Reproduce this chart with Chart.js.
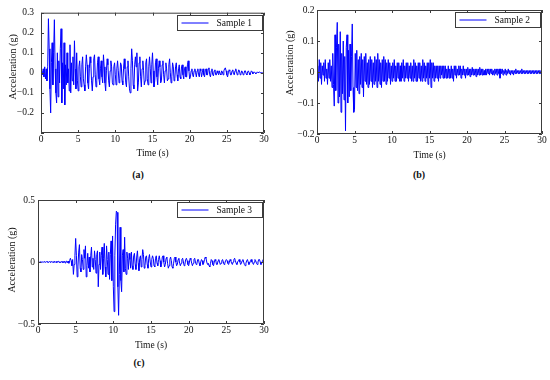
<!DOCTYPE html>
<html>
<head>
<meta charset="utf-8">
<script src="https://cdn.jsdelivr.net/npm/chart.js@4.4.1/dist/chart.umd.min.js"></script>
<style>
  body { margin: 0; background: #fff; }
  #page { position: relative; width: 550px; height: 380px; overflow: hidden; }
  .panel { position: absolute; }
  .cap { position: absolute; font: bold 10px "Liberation Serif", serif; color: #111; transform: translate(-50%, -50%); }
</style>
</head>
<body>
<div id="page">
  <div class="panel" style="left:0;top:0"><canvas id="chartA" width="275" height="165"></canvas></div>
  <div class="panel" style="left:280px;top:0"><canvas id="chartB" width="270" height="165"></canvas></div>
  <div class="panel" style="left:0;top:190px"><canvas id="chartC" width="275" height="165"></canvas></div>
  <div class="cap" style="left:138px;top:174px">(a)</div>
  <div class="cap" style="left:419px;top:174px">(b)</div>
  <div class="cap" style="left:139px;top:362px">(c)</div>
</div>
<script>
// sampling step of the records (s)
const dt = 0.1;

const timeTicks = [0, 5, 10, 15, 20, 25, 30];
const accTicksA = [-0.3, -0.2, -0.1, 0, 0.1, 0.2, 0.3];
const accTicksB = [-0.2, -0.1, 0, 0.1, 0.2];
const accTicksC = [-0.5, 0, 0.5];
const seriesLabels = ['Sample 1', 'Sample 2', 'Sample 3'];
const xTitle = 'Time (s)';
const yTitle = 'Acceleration (g)';

const sample1 = [
  0, 0.01, -0.01, 0.02, -0.02, 0.03, -0.03, 0.02, -0.04, 0.03,
  0.27, 0.12, -0.08, -0.20, 0.05, 0.15, -0.06, 0.10, 0.265, 0.02,
  -0.10, -0.15, 0.10, -0.12, 0.06, -0.05, 0.12, 0.22, -0.15, 0.05,
  -0.08, 0.15, -0.16, 0.04, -0.06, 0.10, -0.05, 0.02, -0.09, 0.14,
  -0.10, 0.05, -0.04, 0.08, -0.06, 0.16, 0.02, -0.08, 0.10, -0.04,
  -0.09, 0.03, 0.06, -0.02, -0.07, 0.04, 0.08, -0.03, -0.06, -0.09,
  0.03, 0.09, 0.04, -0.05, -0.08, 0.02, 0.08, 0.05, -0.04, -0.09,
  -0.02, 0.07, 0.09, -0.01, -0.07, -0.04, 0.05, 0.08, -0.03, -0.06,
  0.02, 0.06, -0.02, -0.05, 0.09, 0.03, -0.05, -0.09, 0.01, 0.07,
  0.04, -0.04, -0.07, 0.01, 0.06, 0.03, -0.05, -0.06, 0.03, 0.05,
  -0.01, -0.06, 0.02, 0.06, 0.01, -0.05, -0.03, 0.05, 0.04, -0.04,
  -0.06, 0.02, 0.07, 0.02, -0.05, -0.07, 0.03, 0.06, -0.02, -0.08,
  -0.10, 0.02, 0.12, 0.06, -0.06, -0.08, 0.04, 0.08, 0.03, 0.10,
  -0.09, -0.05, 0.05, 0.08, -0.02, -0.07, 0.02, 0.06, 0.01, -0.06,
  -0.04, 0.05, 0.07, -0.03, -0.06, 0.03, 0.08, 0.02, -0.05, 0.04,
  0.10, 0.01, -0.07, -0.04, 0.05, 0.07, -0.02, -0.06, 0.02, 0.06,
  0.03, -0.05, -0.04, 0.04, 0.06, -0.01, -0.05, 0.01, 0.05, 0.02,
  -0.04, -0.03, 0.04, 0.07, 0.00, -0.05, -0.02, 0.05, 0.03, -0.04,
  -0.03, 0.03, 0.05, -0.01, -0.04, 0.02, 0.04, -0.02, -0.03, 0.03,
  0.04, -0.01, -0.03, 0.02, 0.03, -0.02, -0.02, 0.04, 0.06, 0.01,
  -0.03, -0.02, 0.01, 0.02, -0.01, -0.02, 0.01, 0.02, 0.00, -0.02,
  0.01, 0.02, -0.01, -0.02, 0.02, 0.01, -0.02, 0.00, 0.02, -0.01,
  -0.02, 0.01, 0.02, -0.01, -0.01, 0.02, 0.025, -0.01, -0.02, 0.01,
  0.02, -0.01, -0.015, 0.01, 0.015, -0.01, -0.01, 0.01, 0.00, -0.01,
  0.01, -0.005, -0.01, 0.01, 0.005, -0.01, 0.01, 0.02, 0.025, 0.01,
  -0.01, -0.02, 0.00, 0.015, 0.01, -0.01, -0.01, 0.01, 0.015, -0.005,
  -0.01, 0.01, 0.02, 0.005, -0.01, 0.00, 0.015, 0.01, -0.01, -0.005,
  0.01, 0.005, -0.01, -0.005, 0.01, 0.01, -0.005, -0.01, 0.005, 0.01,
  0.00, -0.01, 0.00, 0.01, 0.005, -0.005, 0.00, 0.005, 0.00, -0.005,
  0.00, 0.005, 0.00, 0.00, 0.005, 0.00, 0.00, 0.00, 0.00, 0.00,
  0.00
];

const sample2 = [
  0.00, 0.02, -0.03, 0.04, -0.02, 0.03, -0.04, 0.02, -0.01, 0.03,
  -0.03, 0.04, -0.02, 0.01, -0.04, 0.03, -0.02, 0.04, -0.03, 0.02,
  -0.05, 0.06, -0.04, -0.11, 0.12, -0.06, 0.08, 0.16, -0.10, 0.09,
  -0.08, 0.13, -0.13, 0.06, -0.07, 0.10, -0.09, 0.05, -0.19, 0.08,
  0.12, -0.10, 0.07, -0.08, 0.09, -0.06, 0.05, 0.155, -0.05, -0.13,
  -0.12, 0.06, -0.05, 0.07, -0.06, 0.04, -0.07, 0.05, -0.04, 0.06,
  -0.05, 0.04, -0.08, 0.05, -0.03, 0.06, -0.04, 0.03, -0.05, 0.04,
  -0.04, 0.05, -0.03, 0.04, -0.05, 0.03, -0.04, 0.05, -0.03, 0.04,
  -0.05, 0.06, -0.03, 0.04, -0.04, 0.03, -0.05, 0.04, -0.03, 0.05,
  -0.03, 0.04, -0.04, 0.03, -0.03, 0.04, -0.02, 0.03, -0.04, 0.02,
  -0.03, 0.03, -0.02, 0.04, -0.03, 0.02, -0.03, 0.03, -0.02, 0.03,
  -0.03, 0.02, -0.03, 0.03, -0.02, 0.04, -0.03, 0.02, -0.02, 0.03,
  -0.02, 0.03, -0.03, 0.02, -0.02, 0.03, -0.03, 0.02, -0.03, 0.04,
  -0.02, 0.03, -0.03, 0.02, -0.03, 0.03, -0.02, 0.03, -0.03, 0.02,
  -0.03, 0.04, -0.02, 0.03, -0.03, 0.02, -0.02, 0.03, -0.04, 0.03,
  -0.02, 0.04, -0.05, 0.03, -0.02, 0.03, -0.03, 0.02, -0.02, 0.02,
  -0.02, 0.02, -0.03, 0.02, -0.02, 0.02, -0.01, 0.02, -0.02, 0.02,
  -0.02, 0.02, -0.02, 0.01, -0.02, 0.02, -0.02, 0.01, -0.02, 0.02,
  -0.02, 0.01, -0.03, 0.02, -0.01, 0.02, -0.02, 0.01, -0.01, 0.02,
  -0.01, 0.02, -0.02, 0.01, -0.01, 0.02, -0.01, 0.01, -0.02, 0.01,
  -0.01, 0.015, -0.01, 0.01, -0.015, 0.01, -0.01, 0.015, -0.01, 0.01,
  -0.01, 0.01, -0.015, 0.01, -0.01, 0.01, -0.01, 0.015, -0.01, 0.01,
  -0.01, 0.01, -0.01, 0.005, -0.01, 0.01, -0.01, 0.01, -0.005, 0.01,
  -0.01, 0.01, -0.005, 0.01, -0.01, 0.005, -0.01, 0.01, -0.005, 0.01,
  -0.01, 0.01, -0.005, 0.01, -0.02, 0.01, -0.005, 0.01, -0.01, 0.005,
  -0.005, 0.01, -0.01, 0.005, -0.005, 0.01, -0.005, 0.005, -0.01, 0.005,
  -0.005, 0.005, -0.01, 0.005, -0.005, 0.01, -0.005, 0.005, -0.005, 0.005,
  -0.005, 0.005, -0.005, 0.01, -0.005, 0.005, -0.005, 0.005, -0.005, 0.005,
  -0.005, 0.005, -0.005, 0.005, -0.005, 0.005, -0.005, 0.005, -0.005, 0.005,
  -0.005, 0.005, -0.005, 0.005, -0.005, 0.005, -0.005, 0.005, -0.005, 0.005,
  0.00
];

const sample3 = [
  0, 0.002, -0.002, 0.003, -0.003, 0.002, 0, -0.002, 0.003, 0,
  -0.003, 0.002, 0.004, -0.002, -0.004, 0.003, 0.002, -0.003, 0.004, -0.002,
  0.003, -0.004, 0.005, -0.003, 0.004, -0.005, 0.004, 0.006, -0.004, 0.003,
  -0.006, 0.005, -0.004, 0.007, -0.005, 0.006, -0.008, 0.005, 0.007, -0.006,
  0.008, -0.01, 0.012, 0.03, 0.01, -0.03, 0.02, -0.10, -0.02, 0.05,
  0.19, 0.05, -0.12, -0.04, 0.08, 0.14, -0.05, -0.08, 0.06, 0.02,
  -0.06, 0.10, 0.03, 0.13, -0.12, -0.03, 0.07, -0.05, 0.04, -0.08,
  0.05, 0.12, -0.04, 0.03, -0.06, 0.09, 0.02, -0.09, 0.06, 0.09,
  -0.20, -0.02, 0.08, -0.06, 0.05, 0.12, -0.10, 0.03, 0.15, -0.04,
  -0.12, 0.13, 0.02, -0.10, 0.08, -0.14, 0.06, 0.17, -0.15, 0.21,
  -0.20, -0.40, 0.05, 0.30, 0.41, 0.40, -0.20, -0.43, -0.10, 0.28,
  -0.15, -0.24, 0.05, 0.10, -0.08, 0.20, -0.05, -0.10, 0.08, 0.03,
  -0.06, 0.07, 0.02, -0.05, 0.08, -0.03, -0.06, 0.05, 0.07, -0.02,
  -0.06, 0.04, 0.09, -0.01, -0.07, 0.03, 0.05, -0.04, 0.02, 0.10,
  0.06, -0.05, -0.03, 0.04, 0.05, -0.02, -0.05, 0.03, 0.06, 0.00,
  -0.04, 0.02, 0.05, 0.03, -0.03, -0.04, 0.03, 0.05, -0.01, -0.03,
  0.02, 0.05, 0.01, -0.04, -0.02, 0.04, 0.05, 0.00, -0.04, -0.02,
  0.03, 0.04, -0.01, -0.05, -0.03, 0.02, 0.04, 0.01, -0.04, -0.05,
  -0.01, 0.03, 0.04, 0.00, -0.03, -0.02, 0.02, 0.03, -0.01, -0.03,
  -0.01, 0.02, 0.03, 0.00, -0.03, -0.02, 0.02, 0.03, 0.01, -0.02,
  -0.03, 0.00, 0.03, 0.02, -0.01, -0.03, -0.01, 0.02, 0.03, 0.00,
  -0.02, -0.01, 0.02, 0.02, -0.01, -0.03, 0.00, 0.02, 0.01, -0.02,
  -0.01, 0.02, 0.04, 0.03, 0.00, -0.02, -0.01, -0.03, -0.04, -0.01,
  0.02, 0.01, -0.02, -0.03, 0.00, 0.02, 0.01, -0.02, -0.02, 0.01,
  0.02, 0.00, -0.02, -0.01, 0.01, 0.02, 0.00, -0.02, -0.01, 0.01,
  0.02, 0.01, -0.01, -0.02, 0.00, 0.02, 0.01, -0.01, -0.02, 0.00,
  0.02, 0.03, 0.01, -0.01, -0.02, 0.00, 0.01, 0.02, 0.00, -0.02,
  -0.01, 0.01, 0.02, 0.00, -0.02, -0.03, -0.01, 0.01, 0.02, 0.00,
  -0.02, -0.01, 0.01, 0.02, 0.00, -0.01, -0.02, 0.00, 0.02, 0.01,
  -0.01, -0.02, 0.00, 0.02, 0.02, 0.00, -0.02, -0.01, 0.01, 0.02,
  0.00
];

const fmt = v => {
  const r = Math.round(v * 10) / 10;
  if (r === 0) return '0';
  return (r < 0 ? '\u2212' : '') + Math.abs(r).toFixed(1);
};

// MATLAB-like box with inward ticks, y label and an in-axes legend
const boxPlugin = {
  id: 'box',
  afterDatasetsDraw(chart, args, opts) {
    const { ctx, chartArea: a, scales: { x, y } } = chart;
    ctx.save();
    ctx.strokeStyle = '#3c3c3c';
    ctx.lineWidth = 1;
    ctx.beginPath();
    x.ticks.forEach(t => {
      const px = Math.round(x.getPixelForValue(t.value)) + 0.5;
      ctx.moveTo(px, a.bottom); ctx.lineTo(px, a.bottom - 3);
      ctx.moveTo(px, a.top); ctx.lineTo(px, a.top + 3);
    });
    y.ticks.forEach(t => {
      const py = Math.round(y.getPixelForValue(t.value)) + 0.5;
      ctx.moveTo(a.left, py); ctx.lineTo(a.left + 3, py);
      ctx.moveTo(a.right, py); ctx.lineTo(a.right - 3, py);
    });
    ctx.rect(a.left + 0.5, a.top + 0.5, a.right - a.left - 1, a.bottom - a.top - 1);
    ctx.stroke();

    // y axis label
    ctx.fillStyle = '#111';
    ctx.font = '10px "Liberation Serif", serif';
    ctx.textAlign = 'center';
    ctx.textBaseline = 'middle';
    ctx.save();
    ctx.translate(opts.titleX, (a.top + a.bottom) / 2 - opts.titleShift);
    ctx.rotate(-Math.PI / 2);
    ctx.fillText(yTitle, 0, 0);
    ctx.restore();

    // legend
    const bw = 85, bh = 15;
    const bx = Math.round(a.right - 2 - bw) + 0.5;
    const by = Math.round(a.top + 2) + 0.5;
    ctx.fillStyle = '#fff';
    ctx.fillRect(bx, by, bw, bh);
    ctx.strokeRect(bx, by, bw, bh);
    const ds = chart.data.datasets[0];
    ctx.strokeStyle = ds.borderColor;
    ctx.beginPath();
    ctx.moveTo(bx + 4, by + bh / 2);
    ctx.lineTo(bx + 31, by + bh / 2);
    ctx.stroke();
    ctx.fillStyle = '#111';
    ctx.font = '9.5px "Liberation Serif", serif';
    ctx.textAlign = 'left';
    ctx.fillText(ds.label, bx + 39, by + bh / 2 + 0.5);
    ctx.restore();
  }
};

function makeChart(id, values, label, area, size, yTicks, yPad, titleX, titleShift, xTitlePad, hideMin) {
  const data = values.map((v, i) => ({ x: Math.round(i * dt * 10) / 10, y: v }));
  return new Chart(id, {
    type: 'line',
    data: {
      datasets: [{
        label: label,
        data: data,
        borderColor: '#0000ff',
        borderWidth: 1,
        pointRadius: 0,
        tension: 0,
        fill: false
      }]
    },
    options: {
      responsive: false,
      animation: false,
      layout: { padding: { top: area.t, right: size.w - area.r, bottom: 0, left: 0 } },
      plugins: {
        legend: { display: false },
        tooltip: { enabled: false },
        box: { titleX: titleX, titleShift: titleShift }
      },
      scales: {
        x: {
          type: 'linear',
          min: 0,
          max: 30,
          afterBuildTicks: s => { s.ticks = timeTicks.map(v => ({ value: v })); },
          afterFit: s => { s.height = size.h - area.b; },
          grid: { display: false, drawTicks: false },
          border: { display: false },
          ticks: {
            padding: 1,
            color: '#111',
            font: { family: 'Liberation Serif', size: 9.5 },
            maxRotation: 0,
            callback: v => String(v)
          },
          title: {
            display: true,
            text: xTitle,
            color: '#111',
            font: { family: 'Liberation Serif', size: 9.5 },
            padding: { top: 0, bottom: xTitlePad }
          }
        },
        y: {
          min: yTicks[0],
          max: yTicks[yTicks.length - 1],
          afterBuildTicks: s => { s.ticks = yTicks.map(v => ({ value: v })); },
          afterFit: s => { s.width = area.l; },
          grid: { display: false, drawTicks: false },
          border: { display: false },
          ticks: {
            padding: yPad,
            color: '#111',
            font: { family: 'Liberation Serif', size: 9.5 },
            callback: v => (hideMin && v === yTicks[0]) ? '' : fmt(v)
          }
        }
      }
    },
    plugins: [boxPlugin]
  });
}

makeChart('chartA', sample1, seriesLabels[0], { l: 41, t: 9, r: 264, b: 133 }, { w: 275, h: 165 }, accTicksA, 7, 13, 6, 5.6, true);
makeChart('chartB', sample2, seriesLabels[1], { l: 37, t: 10, r: 262, b: 134 }, { w: 270, h: 165 }, accTicksB, 2.5, 10, 9, 3.9, false);
makeChart('chartC', sample3, seriesLabels[2], { l: 38, t: 10, r: 264, b: 134 }, { w: 275, h: 165 }, accTicksC, 3, 12, 2, 3.9, false);
</script>
</body>
</html>
